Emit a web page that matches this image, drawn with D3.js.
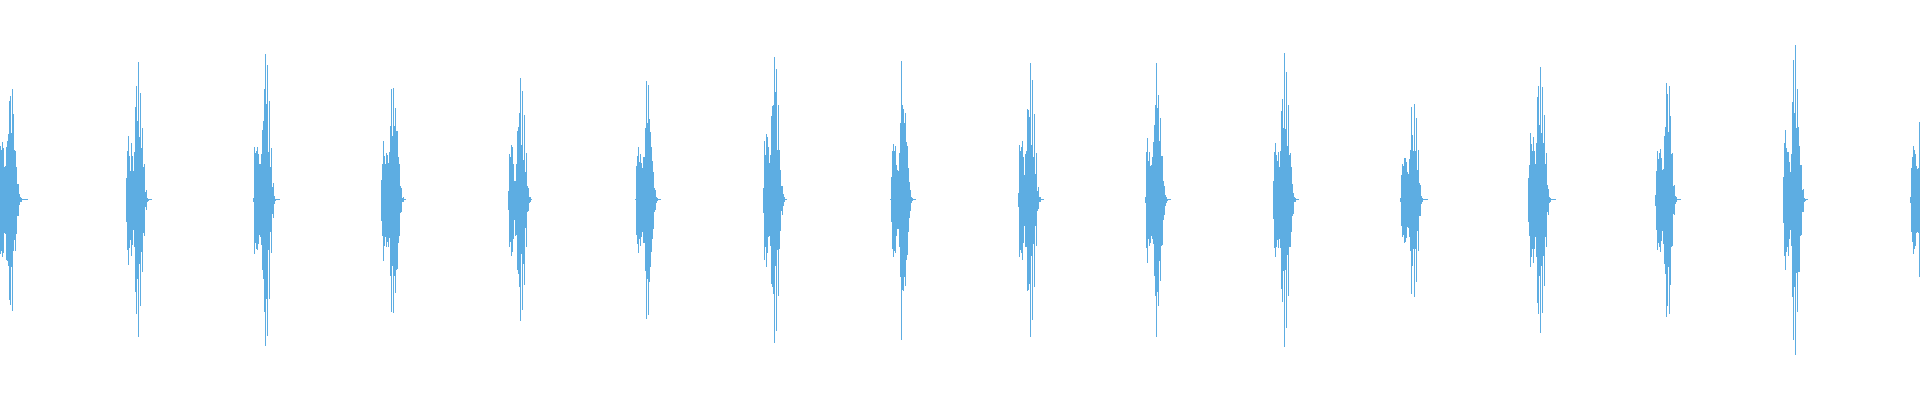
<!DOCTYPE html>
<html>
<head>
<meta charset="utf-8">
<script src="https://cdn.jsdelivr.net/npm/d3@7"></script>
<style>
  html, body { margin: 0; padding: 0; background: #ffffff; }
  svg { display: block; }
</style>
</head>
<body>
<svg id="chart" width="1920" height="400"></svg>
<script>
// Waveform: frame index where each beat burst starts
const burstStart = [0, 126, 253, 381, 508, 635, 763, 890, 1018, 1145, 1273, 1400, 1528, 1655, 1783, 1910];

// Per-frame positive peak amplitude within each burst
const burstTop = [
  [54,50,58,52,33,34,53,59,66,99,104,67,111,86,50,49,33,16,16,6,3,2,0.5,0.5,0.5,0.5,0.5,0.5],
  [22,49,64,44,29,57,44,29,48,93,114,79,138,63,107,52,72,33,36,8,10,2,1,0.5,0.5,0.5],
  [2,53,47,49,53,46,36,36,46,70,79,111,146,96,135,48,99,33,52,13,17,4,1,0.5,0.5,0.5,0.5],
  [20,36,59,44,36,47,45,37,48,74,111,64,112,74,92,69,69,43,36,14,12,2,3,0.5,0.5],
  [9,46,43,55,53,36,19,19,36,69,73,87,122,55,109,40,85,28,47,14,12,3,3,0.5],
  [0.5,34,44,53,38,46,37,32,43,43,72,119,77,115,81,68,53,39,28,12,10,3,2,0.5,0.5,0.5],
  [12,59,45,66,63,53,37,45,84,94,95,143,108,131,50,95,50,30,14,14,6,3,0.5,0.5],
  [0.5,23,49,56,49,54,35,30,29,47,77,139,95,91,77,87,58,54,32,18,10,3,2,0.5,0.5,0.5],
  [7,55,49,53,59,43,25,46,49,91,90,83,137,55,120,43,86,26,47,9,13,3,3,0.5,0.5,0.5],
  [3,48,62,39,48,34,35,43,58,75,95,137,92,105,59,82,44,44,19,14,5,3,1,0.5,0.5,0.5],
  [19,48,57,45,39,48,33,49,89,101,72,147,71,128,54,95,45,47,33,16,7,3,2,0.5,0.5,0.5],
  [2,25,36,34,42,42,38,28,26,41,50,93,65,49,96,49,82,30,50,17,15,4,2,0.5,0.5,0.5,0.5,0.5],
  [22,35,67,56,49,63,49,36,57,103,114,75,133,67,113,57,85,36,47,15,11,3,2,0.5,0.5,0.5,0.5,0.5],
  [5,29,49,41,47,51,42,30,31,64,73,117,106,68,114,84,46,47,14,15,4,3,0.5,0.5,0.5,0.5],
  [23,57,70,52,48,48,38,28,46,98,140,87,155,72,111,73,54,35,35,10,11,2,1,0.5,0.5],
  [3,32,43,54,50,46,34,31,32,78]
];

// Per-frame negative peak amplitude (magnitude) within each burst
const burstBottom = [
  [54,51,57,53,33,34,60,61,66,100,105,67,111,51,40,51,34,16,16,5,2,2,0.5,0.5,0.5,0.5,0.5,0.5],
  [22,50,65,48,40,56,45,30,47,92,114,79,137,64,106,52,72,33,36,7,10,2,1,0.5,0.5,0.5],
  [2,54,43,49,50,44,35,37,45,70,79,112,146,99,136,50,99,32,53,14,18,4,1,0.5,0.5,0.5,0.5],
  [21,36,61,46,37,47,42,47,38,76,112,66,113,76,93,70,69,43,36,13,12,2,2,0.5,0.5],
  [10,47,42,56,52,39,20,36,35,70,74,87,121,54,110,64,85,28,47,12,11,3,2,0.5],
  [0.5,35,44,53,39,46,37,32,43,43,71,119,79,115,82,67,52,39,29,12,10,3,1,0.5,0.5,0.5],
  [13,60,47,67,53,37,36,46,84,87,94,143,66,131,50,96,49,31,11,15,6,2,0.5,0.5],
  [0.5,22,49,57,51,53,36,29,29,47,77,140,90,91,77,86,60,55,32,18,11,3,1,0.5,0.5,0.5],
  [7,57,50,53,60,43,26,47,47,91,90,84,137,56,120,44,87,26,46,11,9,2,2,0.5,0.5,0.5],
  [3,48,63,39,46,43,36,39,44,76,96,137,92,106,61,81,46,45,20,15,6,3,1,0.5,0.5,0.5],
  [19,48,57,47,40,48,39,48,89,102,71,147,70,128,55,96,47,47,32,16,14,2,2,0.5,0.5,0.5],
  [2,26,37,35,43,42,38,27,28,37,51,94,66,49,97,49,82,31,51,16,16,4,2,0.5,0.5,0.5,0.5,0.5],
  [22,36,67,57,49,63,49,37,57,103,114,76,133,66,113,56,86,37,47,12,15,3,2,0.5,0.5,0.5,0.5,0.5],
  [6,30,50,43,47,52,41,31,44,64,74,117,106,67,114,85,47,46,14,15,4,2,0.5,0.5,0.5,0.5],
  [23,56,70,52,47,56,39,30,46,97,140,87,155,73,112,72,72,36,35,12,12,2,1,0.5,0.5],
  [3,32,42,54,49,46,33,32,33,77]
];

const W = 1920, H = 400;
const x = d3.scaleLinear().domain([0, 1920]).range([0, W]);
const y = d3.scaleLinear().domain([-200, 200]).range([399.5, -0.5]);

const frames = [];
burstStart.forEach((s, b) => {
  burstTop[b].forEach((t, i) => {
    frames.push({ frame: s + i, max: t, min: -burstBottom[b][i] });
  });
});

const svg = d3.select("#chart");
svg.append("rect").attr("width", W).attr("height", H).attr("fill", "#ffffff");

svg.append("g")
  .selectAll("rect")
  .data(frames)
  .join("rect")
  .attr("x", d => x(d.frame))
  .attr("width", d => x(d.frame + 1) - x(d.frame))
  .attr("y", d => y(d.max))
  .attr("height", d => Math.max(1, y(d.min) - y(d.max)))
  .attr("fill", "#5dade2")
  .attr("shape-rendering", "crispEdges");
</script>
</body>
</html>
